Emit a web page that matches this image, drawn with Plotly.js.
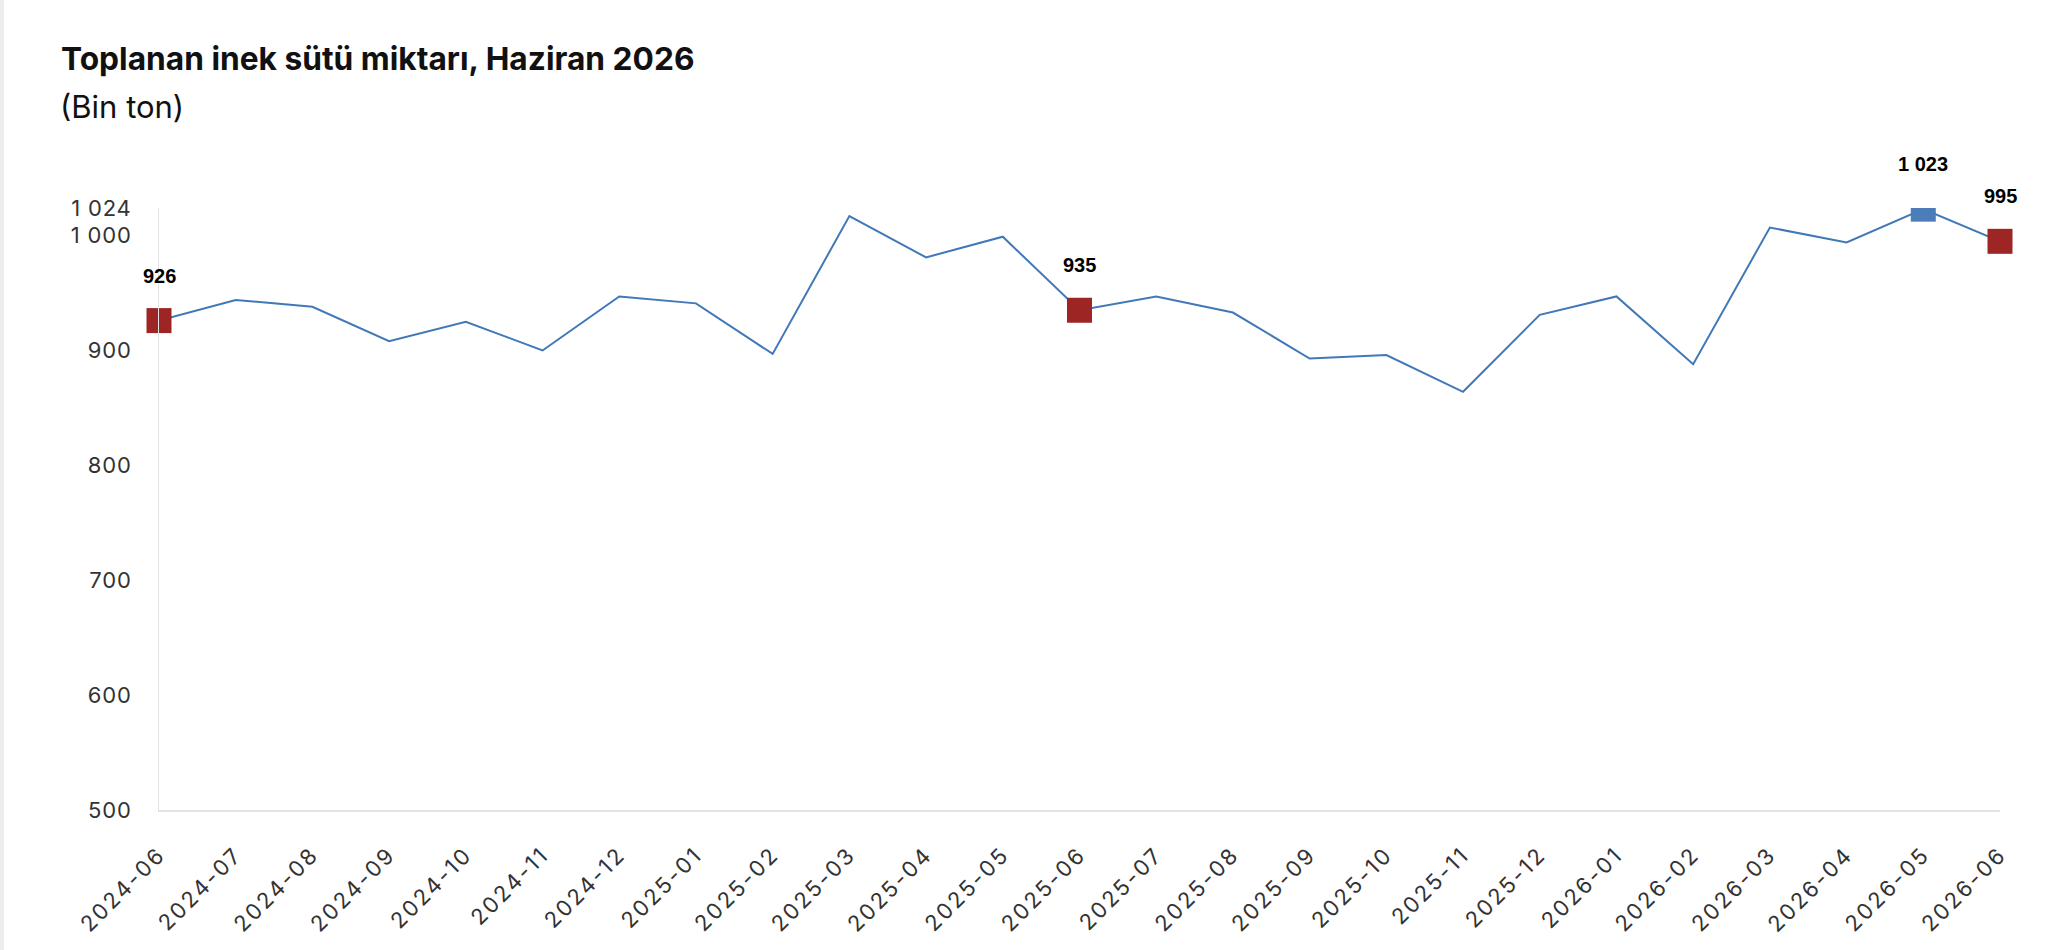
<!DOCTYPE html>
<html lang="tr">
<head>
<meta charset="utf-8">
<title>Toplanan inek sütü miktarı</title>
<script src="https://cdn.plot.ly/plotly-3.0.1.min.js"></script>
<style>
    html, body { margin: 0; padding: 0; background: #ffffff; }
    body { border-left: 4px solid #ececec; box-sizing: border-box; width: 2072px; height: 950px; overflow: hidden; }
    #grafico-sut { width: 2068px; height: 950px; }
    /* etiketler referansta biraz aralıklı */
    #grafico-sut .xtick text { letter-spacing: 2.4px; }
    #grafico-sut .ytick text { letter-spacing: 0.8px; }
</style>
</head>
<body>
<div id="grafico-sut"></div>
<script>
// Datos (bin ton)
const meses = [
    '2024-06', '2024-07', '2024-08', '2024-09', '2024-10', '2024-11', '2024-12',
    '2025-01', '2025-02', '2025-03', '2025-04', '2025-05', '2025-06', '2025-07',
    '2025-08', '2025-09', '2025-10', '2025-11', '2025-12', '2026-01', '2026-02',
    '2026-03', '2026-04', '2026-05', '2026-06'
];
const miktar = [
    926, 944, 938, 908, 925, 900, 947,
    941, 897, 1017, 981, 999, 935, 947,
    933, 893, 896, 864, 931, 947, 888,
    1007, 994, 1023, 995
];
const haziranIdx = [0, 12, 24];   // kırmızı kareler
const zirveIdx = [23];            // mavi kare
const etiketIdx = [0, 12, 23, 24];

const yTickVals = [500, 600, 700, 800, 900, 1000, 1024];

const COLORS = {
    line: '#4078b8',
    peak: '#4a7db9',
    june: '#9d2624',
    tick: '#333333',
    axis: '#e3e3e3'
};

function fmt(v) {
    return String(v).replace(/\B(?=(\d{3})+(?!\d))/g, ' ');
}

function renderChart() {
    const container = document.getElementById('grafico-sut');

    const lineTrace = {
        x: meses,
        y: miktar,
        type: 'scatter',
        mode: 'lines',
        line: { color: COLORS.line, width: 2 },
        hoverinfo: 'skip'
    };

    const juneTrace = {
        x: haziranIdx.map(i => meses[i]),
        y: haziranIdx.map(i => miktar[i]),
        type: 'scatter',
        mode: 'markers',
        marker: { symbol: 'square', size: 25, color: COLORS.june },
        cliponaxis: false
    };

    const peakTrace = {
        x: zirveIdx.map(i => meses[i]),
        y: zirveIdx.map(i => miktar[i]),
        type: 'scatter',
        mode: 'markers',
        marker: { symbol: 'square', size: 25, color: COLORS.peak },
        cliponaxis: true
    };

    const labels = etiketIdx.map(i => ({
        x: meses[i],
        y: miktar[i],
        xref: 'x',
        yref: 'y',
        text: fmt(miktar[i]),
        showarrow: false,
        yshift: 45,
        font: { family: 'Liberation Sans, Arial, sans-serif', size: 20, color: '#000000', weight: 700 }
    }));

    const subtitle = {
        text: '(Bin ton)',
        xref: 'paper',
        yref: 'paper',
        x: -0.0548,
        y: 1.1694,
        xanchor: 'left',
        yanchor: 'middle',
        showarrow: false,
        font: { family: 'Inter, sans-serif', size: 31, color: '#111111' }
    };

    const layout = {
        width: 2068,
        height: 950,
        paper_bgcolor: '#ffffff',
        plot_bgcolor: '#ffffff',
        margin: { l: 155, r: 72, t: 208, b: 140 },
        separators: ', ',
        showlegend: false,
        title: {
            text: 'Toplanan inek sütü miktarı, Haziran 2026',
            xref: 'container',
            yref: 'container',
            x: 57 / 2068,
            xanchor: 'left',
            y: 1 - 59 / 950,
            yanchor: 'middle',
            font: { family: 'Inter, sans-serif', size: 31.7, color: '#111111', weight: 700 }
        },
        xaxis: {
            type: 'category',
            range: [0, meses.length - 1],
            showgrid: false,
            zeroline: false,
            showline: true,
            linecolor: COLORS.axis,
            linewidth: 2,
            ticks: '',
            tickangle: -45,
            ticklabelstandoff: 21,
            tickfont: { family: 'Inter, sans-serif', size: 22, color: COLORS.tick }
        },
        yaxis: {
            range: [500, 1024],
            tickvals: yTickVals,
            tickformat: ',d',
            showgrid: false,
            zeroline: false,
            showline: true,
            linecolor: COLORS.axis,
            linewidth: 1,
            ticks: '',
            ticklabelstandoff: 22,
            tickfont: { family: 'Inter, sans-serif', size: 22, color: COLORS.tick }
        },
        annotations: [subtitle].concat(labels)
    };

    Plotly.newPlot(container, [lineTrace, juneTrace, peakTrace], layout, { displayModeBar: false, staticPlot: true });
}

document.addEventListener('DOMContentLoaded', renderChart);
</script>
</body>
</html>
